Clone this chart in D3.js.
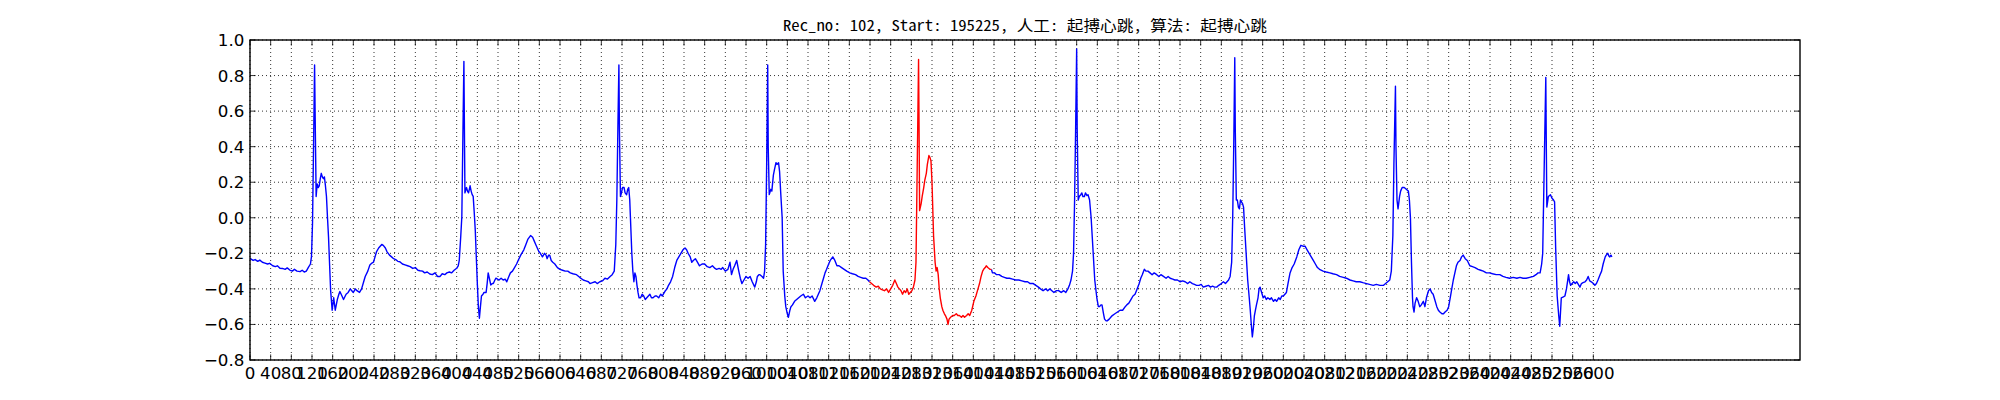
<!DOCTYPE html>
<html>
<head>
<meta charset="utf-8">
<script src="https://cdn.jsdelivr.net/npm/d3@7/dist/d3.min.js"></script>
<style>
  body { margin: 0; background: #fff; }
  .tick-label { font-family: "DejaVu Sans", sans-serif; font-size: 16.7px; fill: #000; }
  .title { font-family: "Noto Sans Mono CJK SC", "DejaVu Sans Mono", "Noto Sans CJK SC", monospace; font-size: 15px; fill: #000; }
</style>
</head>
<body>
<script>

// chart title
var titleText = "Rec_no: 102, Start: 195225, 人工: 起搏心跳, 算法: 起搏心跳";

// sample index of each point
var sampleIdx = [
  0,6,10,15,19,24,29,34,38,44,49,53,58,63,68,72,77,82,86,91,97,101,105,109,113,117,119,121,123,125,
  126,128,130,132,134,136,138,140,142,144,146,148,150,152,154,156,159,162,165,169,172,174,178,181,186,190,194,197,200,204,
  207,212,216,220,223,228,232,236,239,242,245,249,252,255,258,262,265,270,274,278,282,286,290,295,300,305,310,315,320,325,
  329,334,338,343,348,353,358,363,368,372,377,381,386,390,395,400,403,405,408,410,412,414,415,416,419,421,423,426,428,430,
  432,434,436,438,440,442,444,446,448,451,453,457,459,461,464,466,469,471,474,476,479,482,486,490,494,497,501,504,508,512,
  516,519,524,530,534,538,543,547,550,553,556,559,562,566,570,573,575,578,580,583,586,590,595,600,605,610,615,620,625,632,
  638,645,650,655,658,663,668,672,677,682,687,692,697,701,705,708,710,712,714,715,717,719,721,724,726,729,731,733,735,737,
  739,741,743,745,747,749,751,753,756,759,762,765,768,771,774,777,780,784,787,791,795,798,800,804,807,810,814,818,822,826,
  830,834,838,842,845,848,852,855,858,862,866,870,875,880,885,890,895,900,903,908,912,915,920,925,929,932,935,938,942,946,
  949,952,956,960,964,968,972,977,980,982,985,987,991,994,996,998,1000,1002,1003,1005,1008,1010,1013,1015,1018,1020,1023,1025,
  1027,1030,1032,1035,1037,1040,1042,1045,1047,1050,1054,1058,1062,1066,1071,1075,1080,1084,1088,1093,1097,1100,1103,1107,1110,1113,
  1116,1120,1123,1128,1132,1136,1140,1145,1150,1155,1161,1166,1172,1177,1182,1187,1192,1196,1199,1203,1207,1212,1216,1220,1224,1228,
  1232,1236,1240,1244,1248,1251,1254,1257,1260,1263,1266,1269,1272,1275,1278,1281,1284,1287,1289,1291,1294,1295,1296,1299,1301,1304,
  1306,1309,1311,1314,1316,1318,1320,1321,1323,1326,1328,1330,1332,1334,1336,1339,1341,1344,1346,1349,1351,1353,1356,1360,1363,1367,
  1370,1373,1377,1380,1383,1387,1390,1393,1397,1401,1405,1408,1412,1415,1418,1420,1423,1425,1428,1432,1435,1437,1441,1445,1450,1455,
  1460,1465,1470,1476,1482,1488,1494,1500,1505,1510,1516,1521,1526,1530,1535,1540,1544,1548,1552,1556,1561,1565,1570,1575,1579,1583,
  1586,1589,1592,1594,1596,1598,1600,1601,1603,1605,1608,1610,1612,1615,1617,1620,1622,1625,1628,1630,1632,1635,1639,1642,1644,1647,
  1649,1652,1654,1657,1659,1663,1666,1669,1674,1679,1684,1689,1694,1697,1701,1705,1709,1713,1717,1721,1724,1727,1731,1734,1738,1742,
  1746,1750,1755,1759,1763,1768,1773,1777,1781,1786,1790,1795,1800,1805,1810,1815,1819,1824,1828,1832,1837,1841,1845,1850,1855,1859,
  1863,1867,1871,1875,1880,1884,1888,1891,1894,1897,1900,1902,1904,1906,1907,1909,1911,1913,1915,1917,1919,1921,1923,1925,1928,1931,
  1934,1936,1938,1940,1942,1944,1946,1948,1951,1953,1955,1958,1961,1964,1967,1970,1974,1977,1981,1984,1987,1991,1994,1997,2000,2003,
  2006,2009,2013,2017,2021,2026,2030,2034,2038,2042,2046,2050,2054,2058,2062,2066,2070,2077,2083,2090,2096,2103,2109,2116,2122,2129,
  2135,2141,2148,2154,2161,2167,2174,2180,2187,2194,2198,2202,2206,2209,2212,2214,2217,2218,2220,2222,2225,2227,2230,2234,2238,2242,
  2244,2246,2248,2250,2251,2253,2255,2258,2261,2264,2267,2271,2274,2277,2281,2284,2287,2290,2293,2297,2300,2303,2307,2310,2313,2317,
  2320,2323,2326,2329,2332,2335,2338,2342,2345,2348,2352,2356,2361,2366,2371,2377,2382,2387,2393,2399,2405,2412,2419,2425,2431,2438,
  2445,2452,2458,2464,2470,2477,2484,2489,2493,2497,2500,2502,2505,2508,2509,2510,2513,2517,2520,2523,2525,2527,2530,2533,2535,2538,
  2542,2545,2548,2550,2552,2554,2556,2559,2562,2565,2568,2571,2574,2577,2580,2584,2587,2590,2593,2596,2600,2603,2606,2609,2613,2616,
  2619,2623,2625,2628,2630,2632,2634,2636
];

// amplitude at each of those samples
var ecgValue = [
  -0.228,-0.24,-0.235,-0.245,-0.238,-0.25,-0.255,-0.26,-0.256,-0.27,-0.275,-0.27,-0.284,-0.285,-0.29,-0.282,-0.294,-0.30,-0.29,-0.30,-0.303,-0.295,-0.305,-0.30,-0.279,-0.26,-0.219,-0.03,0.40,0.86,
  0.60,0.12,0.19,0.17,0.18,0.22,0.25,0.23,0.22,0.23,0.18,0.12,0.0,-0.11,-0.26,-0.406,-0.52,-0.45,-0.52,-0.46,-0.43,-0.415,-0.44,-0.46,-0.43,-0.42,-0.40,-0.41,-0.42,-0.40,
  -0.41,-0.42,-0.40,-0.36,-0.33,-0.30,-0.266,-0.255,-0.25,-0.22,-0.19,-0.17,-0.16,-0.15,-0.155,-0.17,-0.19,-0.21,-0.22,-0.23,-0.235,-0.245,-0.247,-0.26,-0.265,-0.27,-0.275,-0.285,-0.28,-0.295,
  -0.298,-0.30,-0.31,-0.305,-0.316,-0.32,-0.31,-0.33,-0.33,-0.315,-0.32,-0.31,-0.305,-0.31,-0.295,-0.284,-0.27,-0.24,-0.10,0.006,0.45,0.88,0.50,0.14,0.17,0.15,0.14,0.18,0.15,0.13,
  0.12,0.03,-0.07,-0.22,-0.37,-0.50,-0.565,-0.50,-0.44,-0.43,-0.42,-0.42,-0.37,-0.31,-0.35,-0.378,-0.37,-0.37,-0.35,-0.34,-0.345,-0.35,-0.34,-0.35,-0.345,-0.36,-0.33,-0.31,-0.30,-0.28,
  -0.26,-0.24,-0.21,-0.18,-0.15,-0.12,-0.10,-0.11,-0.13,-0.15,-0.17,-0.19,-0.20,-0.22,-0.20,-0.21,-0.23,-0.21,-0.21,-0.24,-0.25,-0.26,-0.28,-0.29,-0.295,-0.30,-0.30,-0.31,-0.315,-0.32,
  -0.335,-0.35,-0.355,-0.36,-0.37,-0.365,-0.36,-0.37,-0.36,-0.355,-0.34,-0.345,-0.33,-0.32,-0.30,-0.15,0.10,0.50,0.86,0.50,0.12,0.14,0.17,0.17,0.14,0.13,0.16,0.17,0.10,-0.05,
  -0.20,-0.30,-0.36,-0.31,-0.33,-0.38,-0.42,-0.45,-0.45,-0.43,-0.44,-0.46,-0.45,-0.44,-0.43,-0.45,-0.45,-0.44,-0.44,-0.45,-0.43,-0.44,-0.43,-0.41,-0.40,-0.38,-0.36,-0.33,-0.28,-0.24,
  -0.22,-0.20,-0.18,-0.17,-0.18,-0.20,-0.22,-0.25,-0.24,-0.23,-0.25,-0.27,-0.26,-0.26,-0.275,-0.28,-0.27,-0.285,-0.29,-0.285,-0.29,-0.28,-0.30,-0.29,-0.25,-0.32,-0.29,-0.27,-0.24,-0.30,
  -0.34,-0.37,-0.35,-0.33,-0.34,-0.33,-0.36,-0.39,-0.36,-0.33,-0.32,-0.32,-0.33,-0.34,-0.30,-0.15,0.30,0.86,0.40,0.13,0.16,0.15,0.24,0.27,0.31,0.30,0.31,0.26,
  0.15,0.0,-0.30,-0.44,-0.50,-0.54,-0.56,-0.52,-0.50,-0.49,-0.47,-0.46,-0.45,-0.44,-0.43,-0.45,-0.44,-0.45,-0.44,-0.47,-0.45,-0.43,-0.41,-0.37,-0.34,-0.31,
  -0.29,-0.26,-0.24,-0.22,-0.24,-0.27,-0.27,-0.28,-0.29,-0.30,-0.31,-0.315,-0.32,-0.33,-0.335,-0.34,-0.34,-0.35,-0.36,-0.37,-0.38,-0.39,-0.385,-0.40,-0.405,-0.41,
  -0.40,-0.42,-0.40,-0.38,-0.35,-0.37,-0.39,-0.40,-0.41,-0.43,-0.41,-0.42,-0.40,-0.43,-0.42,-0.41,-0.39,-0.35,-0.25,0.20,0.89,0.50,0.04,0.08,0.12,0.17,
  0.21,0.25,0.30,0.35,0.34,0.32,0.20,0.10,-0.10,-0.25,-0.30,-0.28,-0.32,-0.40,-0.45,-0.50,-0.52,-0.54,-0.55,-0.57,-0.60,-0.57,-0.56,-0.55,-0.55,-0.54,
  -0.55,-0.55,-0.56,-0.55,-0.56,-0.55,-0.54,-0.55,-0.52,-0.47,-0.44,-0.41,-0.37,-0.33,-0.30,-0.29,-0.28,-0.27,-0.28,-0.29,-0.29,-0.31,-0.31,-0.32,-0.32,-0.33,
  -0.335,-0.34,-0.34,-0.345,-0.35,-0.35,-0.355,-0.36,-0.36,-0.37,-0.37,-0.38,-0.39,-0.40,-0.41,-0.40,-0.41,-0.40,-0.41,-0.42,-0.41,-0.41,-0.42,-0.41,-0.42,-0.40,
  -0.38,-0.35,-0.30,-0.20,0.10,0.50,0.95,0.50,0.10,0.12,0.13,0.14,0.12,0.12,0.14,0.125,0.13,0.10,0.0,-0.10,-0.20,-0.35,-0.45,-0.50,-0.50,-0.49,
  -0.49,-0.54,-0.57,-0.58,-0.58,-0.57,-0.56,-0.55,-0.54,-0.53,-0.52,-0.52,-0.50,-0.49,-0.48,-0.46,-0.44,-0.43,-0.40,-0.37,-0.34,-0.32,-0.29,-0.30,-0.30,-0.31,
  -0.32,-0.31,-0.32,-0.33,-0.32,-0.33,-0.34,-0.33,-0.34,-0.345,-0.35,-0.35,-0.36,-0.355,-0.36,-0.37,-0.36,-0.37,-0.375,-0.38,-0.38,-0.375,-0.39,-0.385,-0.38,-0.39,
  -0.385,-0.39,-0.39,-0.38,-0.37,-0.36,-0.37,-0.36,-0.35,-0.33,-0.25,0.00,0.40,0.90,0.50,0.10,0.10,0.06,0.05,0.10,0.09,0.08,0.06,-0.05,-0.20,-0.35,
  -0.45,-0.52,-0.60,-0.67,-0.62,-0.55,-0.52,-0.49,-0.45,-0.40,-0.39,-0.42,-0.45,-0.44,-0.46,-0.45,-0.46,-0.45,-0.47,-0.46,-0.47,-0.45,-0.46,-0.44,-0.44,-0.43,
  -0.42,-0.37,-0.31,-0.28,-0.26,-0.22,-0.18,-0.155,-0.16,-0.16,-0.18,-0.20,-0.22,-0.24,-0.26,-0.28,-0.29,-0.30,-0.305,-0.31,-0.315,-0.32,-0.33,-0.335,-0.34,-0.35,
  -0.355,-0.36,-0.36,-0.365,-0.37,-0.375,-0.38,-0.375,-0.38,-0.38,-0.37,-0.36,-0.35,-0.30,-0.10,0.30,0.74,0.40,0.10,0.05,0.12,0.15,0.17,0.17,0.16,0.15,
  0.10,0.00,-0.25,-0.45,-0.50,-0.53,-0.48,-0.45,-0.47,-0.50,-0.49,-0.47,-0.50,-0.45,-0.41,-0.40,-0.42,-0.43,-0.46,-0.50,-0.52,-0.53,-0.54,-0.54,-0.53,-0.52,
  -0.50,-0.45,-0.40,-0.35,-0.31,-0.27,-0.25,-0.24,-0.22,-0.21,-0.23,-0.24,-0.27,-0.275,-0.28,-0.29,-0.295,-0.30,-0.31,-0.31,-0.315,-0.32,-0.32,-0.33,-0.335,-0.34,
  -0.335,-0.34,-0.335,-0.34,-0.34,-0.335,-0.33,-0.32,-0.31,-0.31,-0.26,-0.20,0.30,0.79,0.40,0.06,0.12,0.13,0.11,0.10,0.09,-0.16,-0.44,-0.55,-0.61,-0.45,
  -0.445,-0.44,-0.40,-0.36,-0.32,-0.36,-0.38,-0.37,-0.36,-0.37,-0.36,-0.375,-0.39,-0.37,-0.365,-0.36,-0.35,-0.33,-0.355,-0.36,-0.37,-0.38,-0.37,-0.35,-0.32,-0.30,
  -0.26,-0.22,-0.21,-0.20,-0.215,-0.22,-0.21,-0.22
];

// stretch of samples drawn in red (the beat under review)
var redStart = 1199,
    redEnd = 1435;

// axis ticks
var xTicks = [0,40,80,120,160,200,240,280,320,360,400,440,480,520,560,600,640,680,720,760,800,840,880,920,960,1000,
  1040,1080,1120,1160,1200,1240,1280,1320,1360,1400,1440,1480,1520,1560,1600,1640,1680,1720,1760,1800,1840,1880,1920,1960,2000,
  2040,2080,2120,2160,2200,2240,2280,2320,2360,2400,2440,2480,2520,2560,2600];
var yTicks = [-0.8,-0.6,-0.4,-0.2,0.0,0.2,0.4,0.6,0.8,1.0];

var margin = {top: 40, right: 200, bottom: 40, left: 250},
    width = 2000 - margin.left - margin.right,
    height = 400 - margin.top - margin.bottom;

var svg = d3.select("body").append("svg")
    .attr("width", 2000)
    .attr("height", 400);

svg.append("rect")
    .attr("width", 2000)
    .attr("height", 400)
    .attr("fill", "#fff");

var g = svg.append("g")
    .attr("transform", "translate(" + margin.left + "," + margin.top + ")");

var x = d3.scaleLinear().domain([0, 3000]).range([0, width]);
var y = d3.scaleLinear().domain([-0.8, 1.0]).range([height, 0]);

// dotted grid
g.append("g").selectAll("line")
    .data(xTicks)
  .enter().append("line")
    .attr("x1", function(d) { return x(d); })
    .attr("x2", function(d) { return x(d); })
    .attr("y1", 0)
    .attr("y2", height)
    .attr("stroke", "#000")
    .attr("stroke-width", 0.8)
    .attr("stroke-dasharray", "1,3");

g.append("g").selectAll("line")
    .data(yTicks)
  .enter().append("line")
    .attr("x1", 0)
    .attr("x2", width)
    .attr("y1", function(d) { return y(d); })
    .attr("y2", function(d) { return y(d); })
    .attr("stroke", "#000")
    .attr("stroke-width", 0.8)
    .attr("stroke-dasharray", "1,3");

// trace: blue before and after the reviewed beat, red over it
var pts = sampleIdx.map(function(s, i) { return {s: s, v: ecgValue[i]}; });

var line = d3.line()
    .x(function(d) { return x(d.s); })
    .y(function(d) { return y(d.v); });

var pieces = [
  {color: "#0000ff", data: pts.filter(function(d) { return d.s <= redStart; })},
  {color: "#0000ff", data: pts.filter(function(d) { return d.s >= redEnd; })},
  {color: "#ff0000", data: pts.filter(function(d) { return d.s >= redStart && d.s <= redEnd; })}
];

g.append("g").selectAll("path")
    .data(pieces)
  .enter().append("path")
    .attr("fill", "none")
    .attr("stroke", function(d) { return d.color; })
    .attr("stroke-width", 1.4)
    .attr("stroke-linejoin", "round")
    .attr("d", function(d) { return line(d.data); });

// ticks pointing inwards on all four sides
var tickLen = 5.6;
var ax = g.append("g");
xTicks.forEach(function(t) {
  ax.append("line").attr("x1", x(t)).attr("x2", x(t)).attr("y1", height).attr("y2", height - tickLen)
    .attr("stroke", "#000").attr("stroke-width", 0.8);
  ax.append("line").attr("x1", x(t)).attr("x2", x(t)).attr("y1", 0).attr("y2", tickLen)
    .attr("stroke", "#000").attr("stroke-width", 0.8);
});
yTicks.forEach(function(t) {
  ax.append("line").attr("x1", 0).attr("x2", tickLen).attr("y1", y(t)).attr("y2", y(t))
    .attr("stroke", "#000").attr("stroke-width", 0.8);
  ax.append("line").attr("x1", width).attr("x2", width - tickLen).attr("y1", y(t)).attr("y2", y(t))
    .attr("stroke", "#000").attr("stroke-width", 0.8);
});

// frame
g.append("rect")
    .attr("width", width)
    .attr("height", height)
    .attr("fill", "none")
    .attr("stroke", "#000")
    .attr("stroke-width", 1.4);

// tick labels (they crowd into each other, as in the original)
g.append("g").selectAll("text")
    .data(xTicks)
  .enter().append("text")
    .attr("class", "tick-label")
    .attr("x", function(d) { return x(d); })
    .attr("y", height + 18.5)
    .attr("text-anchor", "middle")
    .text(function(d) { return d; });

var yFmt = d3.format(".1f");
g.append("g").selectAll("text")
    .data(yTicks)
  .enter().append("text")
    .attr("class", "tick-label")
    .attr("x", -5.6)
    .attr("y", function(d) { return y(d); })
    .attr("dy", "0.36em")
    .attr("text-anchor", "end")
    .text(function(d) { return yFmt(d); });

// title
g.append("text")
    .attr("class", "title")
    .attr("x", width / 2)
    .attr("y", -9)
    .attr("text-anchor", "middle")
    .attr("textLength", 484)
    .attr("lengthAdjust", "spacingAndGlyphs")
    .text(titleText);

</script>
</body>
</html>
